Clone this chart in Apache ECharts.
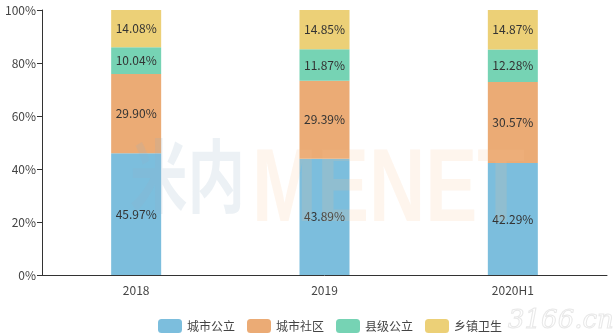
<!DOCTYPE html>
<html><head><meta charset="utf-8">
<script src="https://cdn.jsdelivr.net/npm/echarts@6/dist/echarts.min.js"></script>
<style>html,body{margin:0;padding:0;background:#fff}#c{width:614px;height:334px}</style>
</head><body><div id="c"></div>
<script>
var categories = ['2018', '2019', '2020H1'];
var seriesNames = ['城市公立', '城市社区', '县级公立', '乡镇卫生'];
var cityPublic = [45.97, 43.89, 42.29];
var cityCommunity = [29.90, 29.39, 30.57];
var countyPublic = [10.04, 11.87, 12.28];
var townshipHealth = [14.08, 14.85, 14.87];
var yTicks = [0, 20, 40, 60, 80, 100];

var colors = ['#7cbedd', '#ebab75', '#76d3b4', '#ecd077'];
var dataArr = [cityPublic, cityCommunity, countyPublic, townshipHealth];
var font = '"Noto Sans CJK SC", "Noto Sans", sans-serif';
var chart = echarts.init(document.getElementById('c'));
chart.setOption({
  animation: false,
  textStyle: {fontFamily: font},
  grid: {left: 42, right: 7, top: 10, bottom: 59},
  legend: {
    left: 153, top: 314, itemWidth: 24, itemHeight: 14, itemGap: 12,
    textStyle: {color: '#444', fontSize: 12, fontFamily: font},
    data: seriesNames
  },
  graphic: [
    {type: 'text', x: 130, y: 136, scaleX: 0.72, z: 100, silent: true,
     style: {text: '米内', font: 'bold 80px "Noto Sans CJK SC"', fill: 'rgba(150,180,200,0.18)', textVerticalAlign: 'top'}},
    {type: 'text', x: 252, y: 140, scaleX: 0.75, z: 100, silent: true,
     style: {text: 'MENET', font: 'bold 104px "Liberation Sans"', fill: 'rgba(250,190,140,0.16)', textVerticalAlign: 'top'}},
    {type: 'text', x: 508, y: 308, z: 100, silent: true,
     style: {text: '3166.cn', font: 'italic 26px "DejaVu Serif"', fill: 'rgba(255,255,255,0)', stroke: 'rgba(210,210,210,0.5)', lineWidth: 1}}
  ],
  xAxis: {
    type: 'category', data: categories,
    axisLine: {lineStyle: {color: '#333'}},
    axisTick: {length: 5, lineStyle: {color: '#333'}},
    axisLabel: {color: '#444', fontSize: 12, margin: 9}
  },
  yAxis: {
    type: 'value', min: 0, max: 100, interval: 20,
    axisLine: {show: true, lineStyle: {color: '#333'}},
    axisTick: {show: true, length: 5, lineStyle: {color: '#333'}},
    splitLine: {show: false},
    axisLabel: {color: '#444', fontSize: 12, formatter: '{value}%', margin: 6}
  },
  series: seriesNames.map(function (n, i) {
    return {
      name: n, type: 'bar', stack: 'total', barWidth: 50,
      itemStyle: {color: colors[i]},
      label: {show: true, position: 'inside', color: '#333', fontSize: 12,
        formatter: function (p) { return p.value.toFixed(2) + '%'; }},
      data: dataArr[i]
    };
  })
});
</script></body></html>
